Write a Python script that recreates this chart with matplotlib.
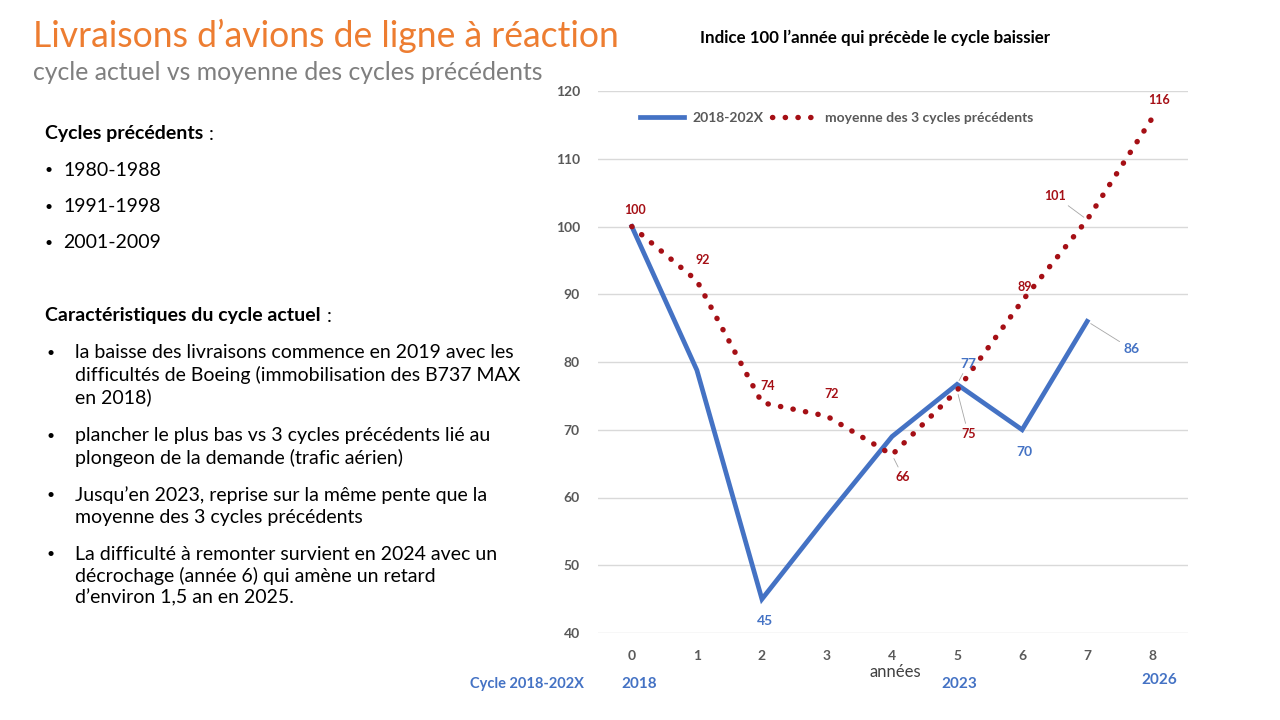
import matplotlib.pyplot as plt

plt.rcParams['font.family'] = ['Lato', 'DejaVu Sans']

# Data
annees = [0, 1, 2, 3, 4, 5, 6, 7, 8]
cycle_actuel = [100, 78.8, 45, 57.2, 69, 76.7, 70, 86]
moyenne_cycles = [100, 92, 74, 72, 66.3, 75.8, 89, 101, 116]
labels_actuel = {2: '45', 5: '77', 6: '70', 7: '86'}
labels_moyenne = {0: '100', 1: '92', 2: '74', 3: '72', 4: '66', 5: '75', 6: '89', 7: '101', 8: '116'}
y_ticks = [40, 50, 60, 70, 80, 90, 100, 110, 120]

blue = '#4472C4'
red = '#A50F15'
grey_txt = '#595959'

fig = plt.figure(figsize=(12.8, 7.2), dpi=100)
renderer = fig.canvas.get_renderer()

# Titles on the slide
fig.text(33 / 1280, 1 - 36 / 720, 'Livraisons d\u2019avions de ligne à réaction', color='#ED7D31',
         fontsize=25.6, va='center', ha='left')
fig.text(33 / 1280, 1 - 72 / 720, 'cycle actuel vs moyenne des cycles précédents', color='#7F7F7F',
         fontsize=17.8, va='center', ha='left')
fig.text(875 / 1280, 1 - 38 / 720, 'Indice 100 l\u2019année qui précède le cycle baissier', color='black',
         fontsize=12.2, fontweight='bold', va='center', ha='center')

# Left text block
body = 14


def heading(y, txt):
    t = fig.text(45 / 1280, 1 - y / 720, txt, fontsize=body, fontweight='bold', va='center')
    x1 = t.get_window_extent(renderer).x1
    fig.text((x1 + 6) / 1280, 1 - y / 720, ':', fontsize=body, va='center')


heading(134, 'Cycles précédents')
for yy, txt in zip([170, 207, 243], ['1980-1988', '1991-1998', '2001-2009']):
    fig.text(45 / 1280, 1 - yy / 720, '\u2022', fontsize=10, va='center')
    fig.text(63 / 1280, 1 - yy / 720, txt, fontsize=body, va='center')

heading(316, 'Caractéristiques du cycle actuel')
bullets = [
    (353, ['la baisse des livraisons commence en 2019 avec les',
           'difficultés de Boeing (immobilisation des B737 MAX',
           'en 2018)']),
    (436, ['plancher le plus bas vs 3 cycles précédents lié au',
           'plongeon de la demande (trafic aérien)']),
    (495, ['Jusqu\u2019en 2023, reprise sur la même pente que la',
           'moyenne des 3 cycles précédents']),
    (554, ['La difficulté à remonter survient en 2024 avec un',
           'décrochage (année 6) qui amène un retard',
           'd\u2019environ 1,5 an en 2025.']),
]
for y0, lines in bullets:
    fig.text(46 / 1280, 1 - y0 / 720, '\u2022', fontsize=10, va='center')
    for k, line in enumerate(lines):
        fig.text(75 / 1280, 1 - (y0 + 22 * k) / 720, line, fontsize=body, va='center')

# Chart
ax = fig.add_axes([598 / 1280, 1 - 633 / 720, 590 / 1280, 542 / 720])
ax.plot(annees[:len(cycle_actuel)], cycle_actuel, color=blue, lw=3.4, solid_joinstyle='miter',
        label='2018-202X', zorder=3)
ax.plot(annees, moyenne_cycles, color=red, lw=3.9, linestyle=(0, (0.05, 2.3)), dash_capstyle='round',
        label='moyenne des 3 cycles précédents', zorder=4)

ax.set_xlim(-0.52, 8.55)
ax.set_ylim(40, 120)
ax.set_yticks(y_ticks)
ax.set_xticks(annees)
ax.grid(axis='y', color='#D9D9D9', lw=1)
ax.set_axisbelow(True)
for s in ax.spines.values():
    s.set_visible(False)
ax.tick_params(length=0, labelsize=10, labelcolor=grey_txt, pad=12)
ax.tick_params(axis='y', pad=13)
for lab in ax.get_xticklabels() + ax.get_yticklabels():
    lab.set_fontweight('bold')

leg = ax.legend(loc='upper left', bbox_to_anchor=(0.05, 0.985), ncol=2, frameon=False,
                handlelength=3.2, columnspacing=0.6, handletextpad=0.6,
                prop={'size': 10, 'weight': 'bold'})
for t in leg.get_texts():
    t.set_color(grey_txt)

# Data labels (offset in points)
off_moy = {0: (2, 12), 1: (4, 15), 2: (4, 12), 3: (3, 16), 4: (8, -16), 5: (8, -31),
           6: (2, 10), 7: (-23, 17), 8: (5, 13)}
off_act = {2: (2, -16), 5: (8, 15), 6: (2, -16), 7: (32, -20)}
leader_moy = {4, 5, 7}
leader_act = {5, 7}
for i, txt in labels_moyenne.items():
    dx, dy = off_moy[i]
    ap = dict(arrowstyle='-', color='#A6A6A6', lw=0.6, shrinkA=1, shrinkB=3) if i in leader_moy else None
    ax.annotate(txt, (annees[i], moyenne_cycles[i]), xytext=(dx, dy), textcoords='offset points',
                ha='center', va='center', color=red, fontsize=9, fontweight='bold', arrowprops=ap, zorder=5)
for i, txt in labels_actuel.items():
    dx, dy = off_act[i]
    ap = dict(arrowstyle='-', color='#A6A6A6', lw=0.6, shrinkA=1, shrinkB=3) if i in leader_act else None
    ax.annotate(txt, (annees[i], cycle_actuel[i]), xytext=(dx, dy), textcoords='offset points',
                ha='center', va='center', color=blue, fontsize=10, fontweight='bold', arrowprops=ap, zorder=5)

# Bottom annotations
fig.text(895 / 1280, 1 - 672 / 720, 'années', color='#404040', fontsize=12, ha='center', va='center')
fig.text(527 / 1280, 1 - 684 / 720, 'Cycle 2018-202X', color=blue, fontsize=10.5, fontweight='bold',
         ha='center', va='center')
for xx, yy, txt in [(639, 684, '2018'), (959, 684, '2023'), (1159, 680, '2026')]:
    fig.text(xx / 1280, 1 - yy / 720, txt, color=blue, fontsize=11, fontweight='bold', ha='center', va='center')

fig.savefig('out.png', dpi=100, facecolor='white')
